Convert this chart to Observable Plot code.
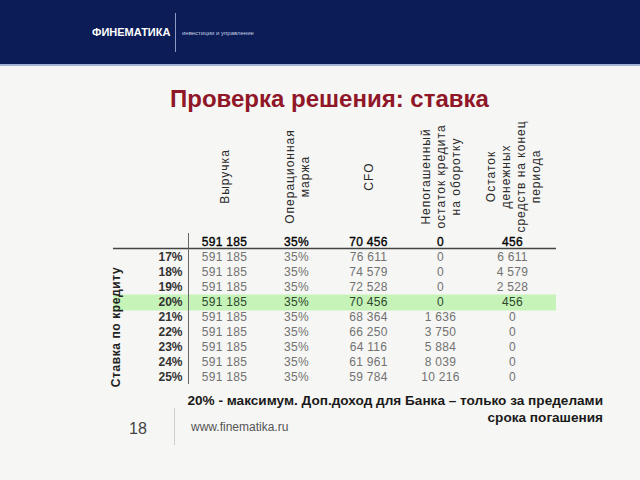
<!DOCTYPE html>
<html>
<head>
<meta charset="utf-8">
<script src="https://cdn.jsdelivr.net/npm/d3@7"></script>
<script src="https://cdn.jsdelivr.net/npm/@observablehq/plot@0.6"></script>
<style>
html, body { margin: 0; padding: 0; }
body { width: 640px; height: 480px; overflow: hidden; background: #f6f6f4; font-family: "Liberation Sans", Arial, sans-serif; }
#page { position: relative; width: 640px; height: 480px; }
#band { position: absolute; left: 0; top: 0; width: 640px; height: 64px; background: #0b1c56; border-bottom: 2px solid #a3b3d6; }
#logo { position: absolute; left: 92px; top: 27px; color: #fff; font-weight: bold; font-size: 11px; line-height: 1; letter-spacing: 0px; }
#sep { position: absolute; left: 175px; top: 13px; width: 1px; height: 39px; background: #8d9bc4; }
#tag { position: absolute; left: 182px; top: 30px; color: #c3cbe3; font-size: 6px; line-height: 1; }
#title { position: absolute; left: 170px; top: 87px; color: #8f1728; font-weight: bold; font-size: 24px; line-height: 1; white-space: nowrap; }
#chart { position: absolute; left: 0; top: 120px; }
#note { position: absolute; right: 37px; top: 392px; text-align: right; font-weight: bold; font-size: 13.6px; line-height: 17px; color: #1a1a1a; white-space: nowrap; }
#num { position: absolute; left: 129px; top: 421px; font-size: 16px; line-height: 1; color: #444; }
#fsep { position: absolute; left: 174px; top: 408px; width: 1px; height: 37px; background: #cfcfcf; }
#url { position: absolute; left: 191px; top: 421px; font-size: 12px; line-height: 1; color: #555; }
g[aria-description="headers"] text { letter-spacing: 1px; }
g[aria-description="cells"] text { letter-spacing: 0.3px; }
g[aria-description="rowtitle"] text { letter-spacing: 0.6px; }
</style>
</head>
<body>
<div id="page">
  <div id="band"></div>
  <div id="logo">ФИНЕМАТИКА</div>
  <div id="sep"></div>
  <div id="tag">инвестиции и управление</div>
  <div id="title">Проверка решения: ставка</div>
  <div id="chart"></div>
  <div id="note">20% - максимум. Доп.доход для Банка – только за пределами<br>срока погашения</div>
  <div id="num">18</div>
  <div id="fsep"></div>
  <div id="url">www.finematika.ru</div>
</div>
<script>
// ---- data ----
const colKeys = ["revenue", "margin", "cfo", "debt", "cash"];
const headerLabels = [
  "Выручка",
  "Операционная\nмаржа",
  "CFO",
  "Непогашенный\nостаток кредита\nна оборотку",
  "Остаток\nденежных\nсредств на конец\nпериода"
];
const rowKeys = ["base", "17%", "18%", "19%", "20%", "21%", "22%", "23%", "24%", "25%"];
const rowLabels = ["", "17%", "18%", "19%", "20%", "21%", "22%", "23%", "24%", "25%"];
const rowTitle = "Ставка по кредиту";
const highlightRow = "20%";
const revenue = [591185, 591185, 591185, 591185, 591185, 591185, 591185, 591185, 591185, 591185];
const marginPct = [35, 35, 35, 35, 35, 35, 35, 35, 35, 35];
const cfo = [70456, 76611, 74579, 72528, 70456, 68364, 66250, 64116, 61961, 59784];
const debt = [0, 0, 0, 0, 0, 1636, 3750, 5884, 8039, 10216];
const cash = [456, 6611, 4579, 2528, 456, 0, 0, 0, 0, 0];

// ---- build table ----
const fmt = d3.formatLocale({decimal: ",", thousands: " ", grouping: [3], currency: ["", ""]}).format(",d");
const series = {revenue, margin: marginPct, cfo, debt, cash};
const cells = [];
rowKeys.forEach((r, i) => {
  colKeys.forEach(c => {
    const v = series[c][i];
    cells.push({row: r, col: c, label: c === "margin" ? v + "%" : fmt(v)});
  });
});
const headers = colKeys.map((c, i) => ({col: c, label: headerLabels[i]}));
const kind = r => r === "base" ? "base" : r === highlightRow ? "hl" : "plain";

const chart = Plot.plot({
  width: 640,
  height: 280,
  marginLeft: 113,
  marginRight: 84,
  marginTop: 0,
  marginBottom: 0,
  style: {fontFamily: "'Liberation Sans', Arial, sans-serif", background: "transparent", fontSize: "12px"},
  x: {type: "point", domain: colKeys, range: [223, 513], padding: 0, axis: null},
  y: {type: "point", domain: rowKeys, range: [121, 258.5], padding: 0, axis: null},
  marks: [
    Plot.ruleY([highlightRow], {y: d => d, stroke: "#c6f3b8", strokeWidth: 16}),
    Plot.ruleY([rowKeys[0]], {y: d => d, dy: 6, stroke: "#444", strokeWidth: 1.5}),
    Plot.ruleX([colKeys[0]], {x: d => d, dx: -36, y1: () => rowKeys[0], y2: () => rowKeys[rowKeys.length - 1], insetTop: -9, insetBottom: -7, stroke: "#666", strokeWidth: 1}),
    Plot.text(headers, {x: "col", text: "label", frameAnchor: "top", dy: 56, rotate: -90, textAnchor: "middle", lineAnchor: "middle", lineHeight: 1.25, fontSize: 12, fill: "#2a2a2a", ariaDescription: "headers"}),
    Plot.text(cells.filter(d => kind(d.row) === "plain"), {x: "col", y: "row", text: "label", fontSize: 12, fill: "#727272", ariaDescription: "cells"}),
    Plot.text(cells.filter(d => kind(d.row) === "hl"), {x: "col", y: "row", text: "label", fontSize: 12, fill: "#2c472c", ariaDescription: "cells"}),
    Plot.text(cells.filter(d => kind(d.row) === "base"), {x: "col", y: "row", text: "label", fontSize: 12, fill: "#000", stroke: "#000", strokeWidth: 0.35, ariaDescription: "cells"}),
    Plot.text(rowKeys.slice(1), {y: d => d, text: (d, i) => rowLabels[i + 1], frameAnchor: "left", dx: 69, textAnchor: "end", fontSize: 12, fontWeight: "bold", fill: "#333"}),
    Plot.text([rowTitle], {y: () => "21%", text: d => d, frameAnchor: "left", dx: 3, dy: 9.5, rotate: -90, textAnchor: "middle", fontSize: 12, fontWeight: "bold", fill: "#222", ariaDescription: "rowtitle"})
  ]
});
document.getElementById("chart").appendChild(chart);
</script>
</body>
</html>
